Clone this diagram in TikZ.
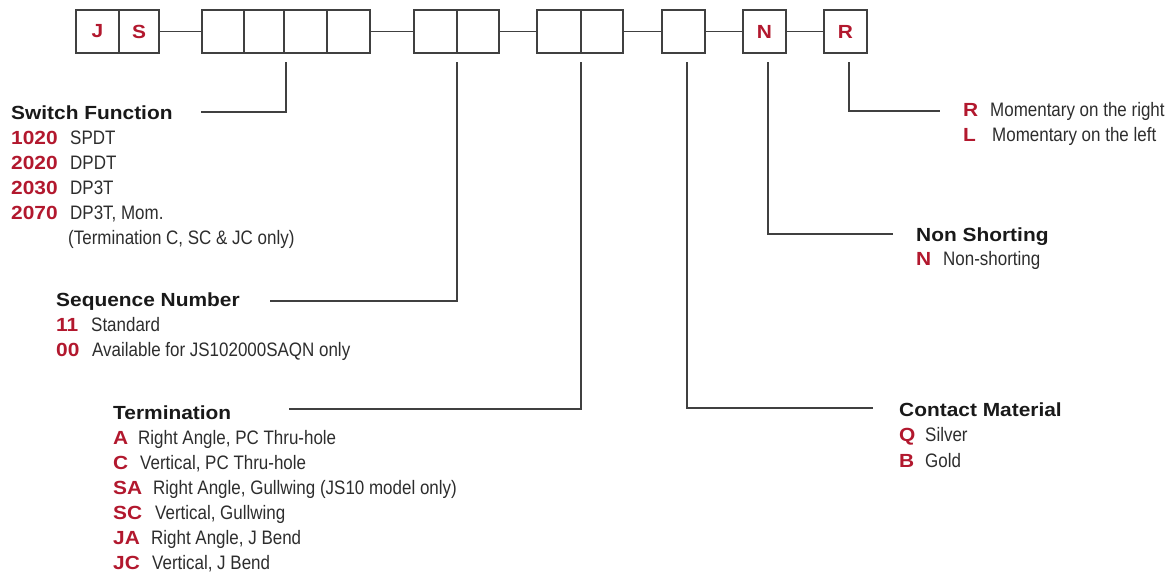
\documentclass[tikz,border=0pt]{standalone}
\usepackage{fontspec}
\setmainfont{Liberation Sans}
\newfontfamily\hdfont[FakeStretch=1.1]{Liberation Sans}
\newfontfamily\bdfont[FakeStretch=0.87]{Liberation Sans}
\definecolor{codered}{RGB}{178,24,46}
\definecolor{linegray}{RGB}{64,64,64}
\definecolor{txtgray}{RGB}{45,45,45}
\definecolor{hdblack}{RGB}{25,25,25}
\tikzset{
  box/.style={draw=linegray, line width=1.3pt, minimum height=43pt, inner sep=0pt, outer sep=0pt, font=\hdfont\bfseries\fontsize{19}{19}\selectfont, text=codered},
  wire/.style={draw=linegray, line width=1.3pt},
  hd/.style={anchor=base west, inner sep=0pt, font=\hdfont\bfseries\fontsize{19}{19}\selectfont, text=hdblack},
  code/.style={anchor=base west, inner sep=0pt, font=\hdfont\bfseries\fontsize{19}{19}\selectfont, text=codered},
  bd/.style={anchor=base west, inner sep=0pt, font=\bdfont\fontsize{19.5}{19.5}\selectfont, text=txtgray},
}
\begin{document}
\begin{tikzpicture}[x=1pt,y=-1pt]
\useasboundingbox (0,0) rectangle (1171,571);
% boxes
\node[box, minimum width=43pt] (b1) at (97.5,31.5) {J};
\node[box, minimum width=40pt] (b2) at (139,31.5) {S};
\node[box, minimum width=42pt] (b3) at (223,31.5) {};
\node[box, minimum width=40pt] (b4) at (264,31.5) {};
\node[box, minimum width=43pt] (b5) at (305.5,31.5) {};
\node[box, minimum width=43pt] (b6) at (348.5,31.5) {};
\node[box, minimum width=43pt] (b7) at (435.5,31.5) {};
\node[box, minimum width=42pt] (b8) at (478,31.5) {};
\node[box, minimum width=44pt] (b9) at (559,31.5) {};
\node[box, minimum width=42pt] (b10) at (602,31.5) {};
\node[box, minimum width=43pt] (b11) at (683.5,31.5) {};
\node[box, minimum width=43pt] (b12) at (764.5,31.5) {N};
\node[box, minimum width=43pt] (b13) at (845.5,31.5) {R};
% chain lines
\draw[wire] (b2.east) -- (b3.west);
\draw[wire] (b6.east) -- (b7.west);
\draw[wire] (b8.east) -- (b9.west);
\draw[wire] (b10.east) -- (b11.west);
\draw[wire] (b11.east) -- (b12.west);
\draw[wire] (b12.east) -- (b13.west);
% drop start points
\coordinate (d1) at (286,62);
\coordinate (d2) at (457,62);
\coordinate (d3) at (581,62);
\coordinate (d4) at (687,62);
\coordinate (d5) at (768,62);
\coordinate (d6) at (849,62);
% free ends
\coordinate (e1) at (201,112);
\coordinate (e2) at (270,301);
\coordinate (e3) at (289,409);
\coordinate (e4) at (873,408);
\coordinate (e5) at (893,234);
\coordinate (e6) at (940,111);
\draw[wire] (d1) |- (e1);
\draw[wire] (d2) |- (e2);
\draw[wire] (d3) |- (e3);
\draw[wire] (d4) |- (e4);
\draw[wire] (d5) |- (e5);
\draw[wire] (d6) |- (e6);
% Switch Function
\node[hd] (sfh) at (11,119) {Switch Function};
\node[code] (sf1) at (11,144.5) {1020};
\node[bd] (sf1t) at (70,144.5) {SPDT};
\node[code] (sf2) at (11,169.5) {2020};
\node[bd] (sf2t) at (70,169.5) {DPDT};
\node[code] (sf3) at (11,194.5) {2030};
\node[bd] (sf3t) at (70,194.5) {DP3T};
\node[code] (sf4) at (11,219.5) {2070};
\node[bd] (sf4t) at (70,219.5) {DP3T, Mom.};
\node[bd] (sf5t) at (68,244) {(Termination C, SC \& JC only)};
% Sequence Number
\node[hd] (snh) at (56,306.5) {Sequence Number};
\node[code] (sn1) at (56,331.5) {11};
\node[bd] (sn1t) at (91,331.5) {Standard};
\node[code] (sn2) at (56,356) {00};
\node[bd] (sn2t) at (92,356) {Available for JS102000SAQN only};
% Termination
\node[hd] (tmh) at (113,419) {Termination};
\node[code] (tm1) at (113,444.3) {A};
\node[bd] (tm1t) at (138,444.3) {Right Angle, PC Thru-hole};
\node[code] (tm2) at (113,469) {C};
\node[bd] (tm2t) at (140,469) {Vertical, PC Thru-hole};
\node[code] (tm3) at (113,494) {SA};
\node[bd] (tm3t) at (153,494) {Right Angle, Gullwing (JS10 model only)};
\node[code] (tm4) at (113,519) {SC};
\node[bd] (tm4t) at (155,519) {Vertical, Gullwing};
\node[code] (tm5) at (113,544) {JA};
\node[bd] (tm5t) at (151,544) {Right Angle, J Bend};
\node[code] (tm6) at (113,569) {JC};
\node[bd] (tm6t) at (152,569) {Vertical, J Bend};
% Contact Material
\node[hd] (cmh) at (899,416) {Contact Material};
\node[code] (cm1) at (899,441.7) {Q};
\node[bd] (cm1t) at (925,441.7) {Silver};
\node[code] (cm2) at (899,467) {B};
\node[bd] (cm2t) at (925,467) {Gold};
% Non Shorting
\node[hd] (nsh) at (916,241) {Non Shorting};
\node[code] (ns1) at (916,265) {N};
\node[bd] (ns1t) at (943,265) {Non-shorting};
% Momentary
\node[code] (mr) at (963,116.7) {R};
\node[bd] (mrt) at (990,116.7) {Momentary on the right};
\node[code] (ml) at (963,141.7) {L};
\node[bd] (mlt) at (992,141.7) {Momentary on the left};
\end{tikzpicture}
\end{document}
